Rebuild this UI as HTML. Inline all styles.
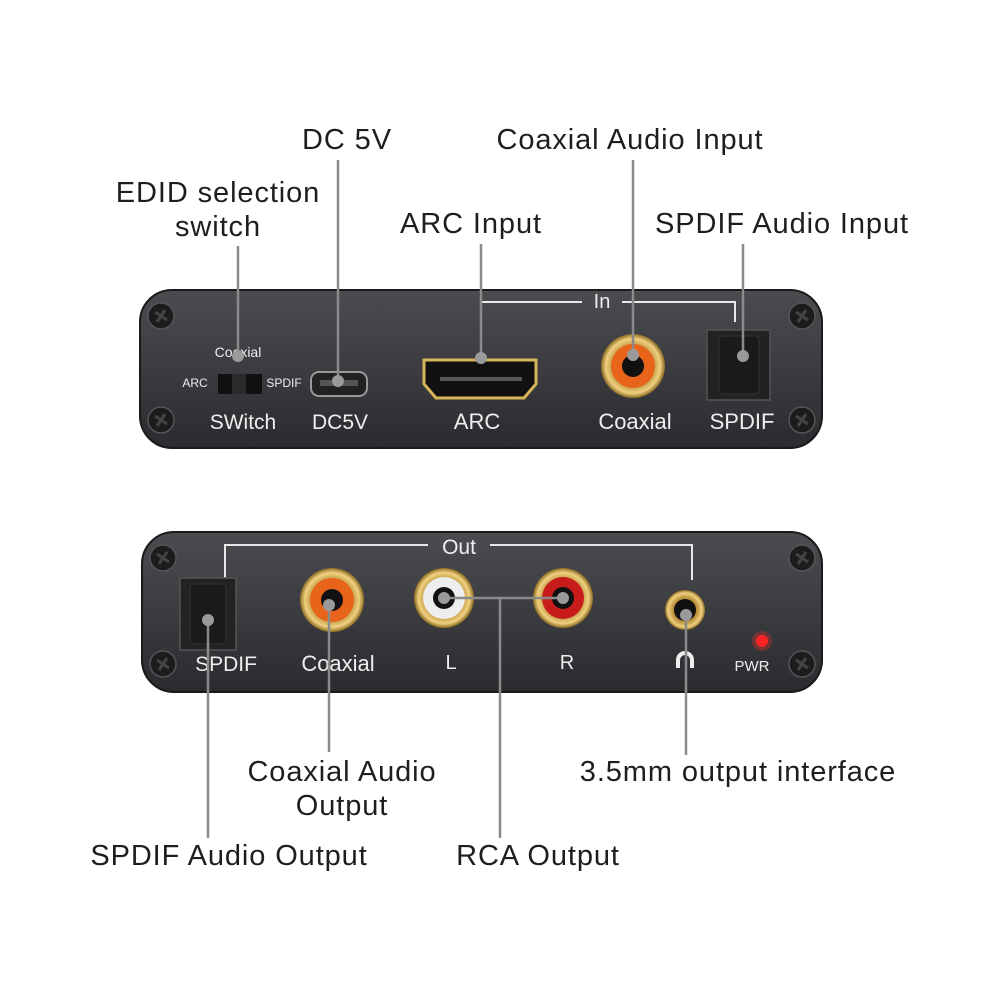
<!DOCTYPE html>
<html><head><meta charset="utf-8"><style>
html,body{margin:0;padding:0;background:#fff}
svg{display:block}
.t{font-family:"Liberation Sans",sans-serif;font-size:29px;letter-spacing:0.9px;fill:#1e1e1e;text-anchor:middle}
.p{font-family:"Liberation Sans",sans-serif;fill:#eee;text-anchor:middle}
.ld{stroke:#8a8a8a;stroke-width:2.5;fill:none}
.br{stroke:#e8e8e8;stroke-width:2;fill:none}
</style></head><body>
<svg width="1000" height="1000" viewBox="0 0 1000 1000">
<defs>
<linearGradient id="pg" x1="0" y1="0" x2="0" y2="1">
<stop offset="0" stop-color="#4a4c50"/><stop offset="0.5" stop-color="#3a3c40"/><stop offset="1" stop-color="#2a2b2e"/></linearGradient>
<radialGradient id="gold"><stop offset="0.6" stop-color="#b8903a"/><stop offset="0.85" stop-color="#f0d080"/><stop offset="1" stop-color="#8a6a20"/></radialGradient>
<g id="screw"><circle r="13" fill="#1c1c1e" stroke="#555" stroke-width="1.5"/><path d="M-6,-4 L6,4 M-4,6 L4,-6" stroke="#444" stroke-width="3"/></g>
</defs>
<!-- labels -->
<text class="t" x="218" y="202">EDID selection</text>
<text class="t" x="218" y="236">switch</text>
<text class="t" x="347" y="149">DC 5V</text>
<text class="t" x="471" y="233">ARC Input</text>
<text class="t" x="630" y="149">Coaxial Audio Input</text>
<text class="t" x="782" y="233">SPDIF Audio Input</text>
<text class="t" x="342" y="781">Coaxial Audio</text>
<text class="t" x="342" y="815">Output</text>
<text class="t" x="738" y="781">3.5mm output interface</text>
<text class="t" x="229" y="865">SPDIF Audio Output</text>
<text class="t" x="538" y="865">RCA Output</text>

<!-- top panel -->
<rect x="140" y="290" width="682" height="158" rx="32" fill="url(#pg)" stroke="#1a1a1a" stroke-width="2"/>
<use href="#screw" x="161" y="316"/><use href="#screw" x="161" y="420"/>
<use href="#screw" x="802" y="316"/><use href="#screw" x="802" y="420"/>
<text class="p" x="238" y="357" font-size="14">Coaxial</text>
<text class="p" x="195" y="387" font-size="12">ARC</text>
<text class="p" x="284" y="387" font-size="12">SPDIF</text>
<rect x="218" y="374" width="44" height="20" fill="#111"/><rect x="232" y="374" width="14" height="20" fill="#2a2a2a"/>
<text class="p" x="243" y="429" font-size="21">SWitch</text>
<rect x="311" y="372" width="56" height="24" rx="8" fill="#222" stroke="#999" stroke-width="2"/>
<rect x="320" y="380" width="38" height="6" fill="#555"/>
<text class="p" x="340" y="429" font-size="21">DC5V</text>
<path d="M424,360 H536 V384 L524,398 H436 L424,384 Z" fill="#111" stroke="#d9b55a" stroke-width="3"/>
<rect x="440" y="377" width="82" height="4" fill="#555"/>
<text class="p" x="477" y="429" font-size="22">ARC</text>
<circle cx="633" cy="366" r="32" fill="url(#gold)"/><circle cx="633" cy="366" r="22" fill="#e8641a"/><circle cx="633" cy="366" r="11" fill="#111"/>
<text class="p" x="635" y="429" font-size="22">Coaxial</text>
<rect x="707" y="330" width="63" height="70" fill="#222" stroke="#555" stroke-width="1.5"/>
<rect x="719" y="336" width="40" height="58" rx="4" fill="#1a1a1a" stroke="#333"/>
<text class="p" x="742" y="429" font-size="22">SPDIF</text>
<path class="br" d="M481,346 V302 H582 M622,302 H735 V322"/>
<text class="p" x="602" y="308" font-size="20">In</text>

<!-- bottom panel -->
<rect x="142" y="532" width="680" height="160" rx="32" fill="url(#pg)" stroke="#1a1a1a" stroke-width="2"/>
<use href="#screw" x="163" y="558"/><use href="#screw" x="163" y="664"/>
<use href="#screw" x="802" y="558"/><use href="#screw" x="802" y="664"/>
<path class="br" d="M225,578 V545 H428 M490,545 H692 V580"/>
<text class="p" x="459" y="554" font-size="21">Out</text>
<rect x="180" y="578" width="56" height="72" fill="#222" stroke="#555" stroke-width="1.5"/>
<rect x="190" y="584" width="36" height="60" rx="4" fill="#1a1a1a" stroke="#333"/>
<text class="p" x="226" y="671" font-size="21">SPDIF</text>
<circle cx="332" cy="600" r="32" fill="url(#gold)"/><circle cx="332" cy="600" r="22" fill="#e8641a"/><circle cx="332" cy="600" r="11" fill="#111"/>
<text class="p" x="338" y="671" font-size="22">Coaxial</text>
<circle cx="444" cy="598" r="30" fill="url(#gold)"/><circle cx="444" cy="598" r="21" fill="#eee"/><circle cx="444" cy="598" r="11" fill="#111"/>
<circle cx="563" cy="598" r="30" fill="url(#gold)"/><circle cx="563" cy="598" r="21" fill="#c81c1c"/><circle cx="563" cy="598" r="11" fill="#111"/>
<text class="p" x="451" y="669" font-size="20">L</text>
<text class="p" x="567" y="669" font-size="20">R</text>
<circle cx="685" cy="610" r="20" fill="url(#gold)"/><circle cx="685" cy="610" r="11" fill="#111"/>
<path d="M678,668 V660 A7,7 0 0 1 692,660 V668" stroke="#eee" stroke-width="4" fill="none"/>
<circle cx="762" cy="641" r="6" fill="#ff2020"/><circle cx="762" cy="641" r="10" fill="#ff3030" opacity="0.3"/>
<text class="p" x="752" y="671" font-size="15">PWR</text>

<!-- leaders -->
<g class="ld">
<path d="M238,246 V355"/><path d="M338,160 V380"/><path d="M481,244 V358"/>
<path d="M633,160 V353"/><path d="M743,244 V356"/>
<path d="M208,620 V838"/><path d="M329,605 V752"/>
<path d="M444,598 H563 M500,598 V838"/><path d="M686,615 V755"/>
</g>
<g fill="#9a9a9a">
<circle cx="238" cy="356" r="6"/><circle cx="338" cy="381" r="6"/><circle cx="481" cy="358" r="6"/>
<circle cx="633" cy="355" r="6"/><circle cx="743" cy="356" r="6"/>
<circle cx="208" cy="620" r="6"/><circle cx="329" cy="605" r="6"/><circle cx="444" cy="598" r="6"/>
<circle cx="563" cy="598" r="6"/><circle cx="686" cy="615" r="6"/>
</g>
</svg>
</body></html>
